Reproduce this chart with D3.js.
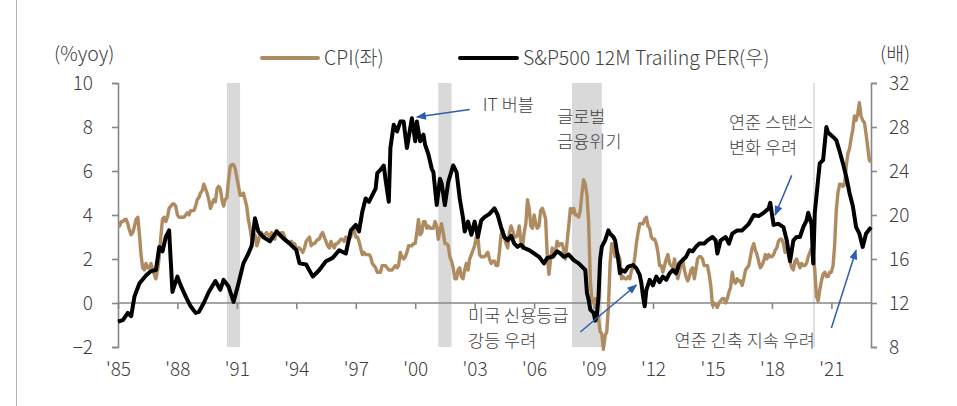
<!DOCTYPE html>
<html>
<head>
<meta charset="utf-8">
<script src="https://cdn.jsdelivr.net/npm/d3@7"></script>
<style>
  html, body { margin: 0; padding: 0; background: #fff; }
  svg text { font-family: "Noto Sans CJK KR", "Noto Sans", sans-serif; font-weight: 300; fill: #3f3f3f; }
</style>
</head>
<body>
<div id="chart"></div>
<script>
// US CPI yoy (%), monthly from 1985-01 to 2023-01
const cpiStart = [1985, 0];
const cpi = [
  3.5, 3.5, 3.7, 3.7, 3.8, 3.8, 3.6, 3.3, 3.1, 3.2, 3.5, 3.8, // 1985
  3.9, 3.1, 2.2, 1.6, 1.5, 1.8, 1.6, 1.6, 1.8, 1.5, 1.3, 1.1, // 1986
  1.5, 2.1, 3.0, 3.8, 3.9, 3.7, 3.9, 4.3, 4.4, 4.5, 4.5, 4.4, // 1987
  4.0, 3.9, 3.9, 3.9, 3.9, 4.0, 4.1, 4.0, 4.2, 4.2, 4.2, 4.4, // 1988
  4.7, 4.8, 5.0, 5.1, 5.4, 5.2, 5.0, 4.7, 4.3, 4.5, 4.7, 4.6, // 1989
  5.2, 5.3, 5.2, 4.7, 4.4, 4.7, 4.8, 5.6, 6.2, 6.3, 6.3, 6.1, // 1990
  5.7, 5.3, 4.9, 4.9, 5.0, 4.7, 4.4, 3.8, 3.4, 2.9, 3.0, 3.1, // 1991
  2.6, 2.8, 3.2, 3.2, 3.0, 3.1, 3.2, 3.1, 3.0, 3.2, 3.0, 2.9, // 1992
  3.3, 3.2, 3.1, 3.2, 3.2, 3.0, 2.8, 2.8, 2.7, 2.8, 2.7, 2.7, // 1993
  2.5, 2.5, 2.5, 2.4, 2.3, 2.5, 2.8, 2.9, 3.0, 2.6, 2.7, 2.7, // 1994
  2.8, 2.9, 2.9, 3.1, 3.2, 3.0, 2.8, 2.6, 2.5, 2.8, 2.6, 2.5, // 1995
  2.7, 2.7, 2.8, 2.9, 2.9, 2.8, 3.0, 2.9, 3.0, 3.0, 3.3, 3.3, // 1996
  3.0, 3.0, 2.8, 2.5, 2.2, 2.3, 2.2, 2.2, 2.2, 2.1, 1.8, 1.7, // 1997
  1.6, 1.4, 1.4, 1.4, 1.7, 1.7, 1.7, 1.6, 1.5, 1.5, 1.5, 1.6, // 1998
  1.7, 1.6, 1.7, 2.3, 2.1, 2.0, 2.1, 2.3, 2.6, 2.6, 2.6, 2.7, // 1999
  2.7, 3.2, 3.8, 3.1, 3.2, 3.7, 3.7, 3.4, 3.5, 3.4, 3.4, 3.4, // 2000
  3.7, 3.5, 2.9, 3.3, 3.6, 3.2, 2.7, 2.7, 2.6, 2.1, 1.9, 1.6, // 2001
  1.1, 1.1, 1.5, 1.6, 1.2, 1.1, 1.5, 1.8, 1.5, 2.0, 2.2, 2.4, // 2002
  2.6, 3.0, 3.0, 2.2, 2.1, 2.1, 2.1, 2.2, 2.3, 2.0, 1.8, 1.9, // 2003
  1.9, 1.7, 1.7, 2.3, 3.1, 3.3, 3.0, 2.7, 2.5, 3.2, 3.5, 3.3, // 2004
  3.0, 3.0, 3.1, 3.5, 2.8, 2.5, 3.2, 3.6, 4.7, 4.3, 3.5, 3.4, // 2005
  4.0, 3.6, 3.4, 3.5, 4.2, 4.3, 4.1, 3.8, 2.1, 1.3, 2.0, 2.5, // 2006
  2.1, 2.4, 2.8, 2.6, 2.7, 2.7, 2.4, 2.0, 2.8, 3.5, 4.3, 4.1, // 2007
  4.3, 4.0, 4.0, 3.9, 4.2, 5.0, 5.6, 5.4, 4.9, 3.7, 1.1, 0.1, // 2008
  0.0, 0.2, -0.4, -0.7, -1.3, -1.4, -2.1, -1.5, -1.3, -0.2, 1.8, 2.7, // 2009
  2.6, 2.1, 2.3, 2.2, 2.0, 1.1, 1.2, 1.1, 1.1, 1.2, 1.1, 1.5, // 2010
  1.6, 2.1, 2.7, 3.2, 3.6, 3.6, 3.6, 3.8, 3.9, 3.5, 3.4, 3.0, // 2011
  2.9, 2.9, 2.7, 2.3, 1.7, 1.7, 1.4, 1.7, 2.0, 2.2, 1.8, 1.7, // 2012
  1.6, 2.0, 1.5, 1.1, 1.4, 1.8, 2.0, 1.5, 1.2, 1.0, 1.2, 1.5, // 2013
  1.6, 1.1, 1.5, 2.0, 2.1, 2.1, 2.0, 1.7, 1.7, 1.7, 1.3, 0.8, // 2014
  -0.1, 0.0, -0.1, -0.2, 0.0, 0.1, 0.2, 0.2, 0.0, 0.2, 0.5, 0.7, // 2015
  1.4, 1.0, 0.9, 1.1, 1.0, 1.0, 0.8, 1.1, 1.5, 1.6, 1.7, 2.1, // 2016
  2.5, 2.7, 2.4, 2.2, 1.9, 1.6, 1.7, 1.9, 2.2, 2.0, 2.2, 2.1, // 2017
  2.1, 2.2, 2.4, 2.5, 2.8, 2.9, 2.9, 2.7, 2.3, 2.5, 2.2, 1.9, // 2018
  1.6, 1.5, 1.9, 2.0, 1.8, 1.6, 1.8, 1.7, 1.7, 1.8, 2.1, 2.3, // 2019
  2.5, 2.3, 1.5, 0.3, 0.1, 0.6, 1.0, 1.3, 1.4, 1.2, 1.2, 1.4, // 2020
  1.4, 1.7, 2.6, 4.2, 5.0, 5.4, 5.4, 5.3, 5.4, 6.2, 6.8, 7.0, // 2021
  7.5, 7.9, 8.5, 8.3, 8.6, 9.1, 8.5, 8.3, 8.2, 7.7, 7.1, 6.5, // 2022
  6.4 // 2023
];

// S&P500 12M trailing PER (x)
const per = [
  ["1985-01", 10.3], ["1985-04", 10.45], ["1985-07", 11.1], ["1985-09", 10.8], ["1985-11", 12.6],
  ["1986-02", 13.8], ["1986-06", 14.5], ["1986-09", 14.9], ["1986-12", 15.0],
  ["1987-02", 17.1], ["1987-04", 16.7], ["1987-06", 18.0], ["1987-08", 18.6], ["1987-10", 13.0], ["1987-11", 13.5],
  ["1988-01", 14.4], ["1988-03", 13.6], ["1988-06", 12.6], ["1988-09", 11.7], ["1988-12", 11.1],
  ["1989-02", 11.2], ["1989-05", 12.0], ["1989-08", 13.0], ["1989-12", 14.0],
  ["1990-03", 13.2], ["1990-05", 14.1], ["1990-08", 13.5], ["1990-11", 12.1],
  ["1991-02", 13.8], ["1991-05", 15.6], ["1991-08", 16.5], ["1991-10", 17.2], ["1991-12", 19.7],
  ["1992-02", 18.5], ["1992-05", 18.0], ["1992-09", 17.6],
  ["1993-01", 18.5], ["1993-05", 17.9], ["1993-09", 17.4],
  ["1994-01", 16.8], ["1994-03", 15.6], ["1994-07", 15.5], ["1994-11", 14.4],
  ["1995-03", 15.0], ["1995-07", 15.8], ["1995-11", 16.1],
  ["1996-03", 16.8], ["1996-07", 16.5], ["1996-10", 18.6],
  ["1997-01", 19.1], ["1997-03", 18.5], ["1997-05", 20.3], ["1997-07", 21.5], ["1997-09", 21.2], ["1997-11", 21.8],
  ["1998-01", 22.4], ["1998-02", 23.8], ["1998-04", 24.1], ["1998-06", 24.5], ["1998-07", 23.3], ["1998-09", 21.2],
  ["1998-10", 26.1], ["1998-12", 28.2],
  ["1999-02", 27.6], ["1999-04", 28.5], ["1999-06", 28.5], ["1999-08", 26.1], ["1999-10", 27.9], ["1999-11", 28.8],
  ["2000-01", 26.7], ["2000-02", 28.5], ["2000-04", 26.7], ["2000-06", 27.3], ["2000-07", 26.4], ["2000-09", 25.5],
  ["2000-11", 24.2], ["2000-12", 23.9],
  ["2001-02", 20.9], ["2001-04", 23.3], ["2001-05", 22.9], ["2001-07", 20.9], ["2001-09", 23.0], ["2001-12", 24.5],
  ["2002-02", 23.9], ["2002-04", 21.5], ["2002-06", 19.7], ["2002-07", 18.5], ["2002-09", 19.4], ["2002-11", 18.2],
  ["2003-01", 19.4], ["2003-03", 18.0], ["2003-05", 19.5], ["2003-07", 19.8], ["2003-10", 20.1],
  ["2004-01", 20.6], ["2004-03", 20.0], ["2004-05", 18.9], ["2004-07", 18.0], ["2004-09", 17.7], ["2004-11", 18.1],
  ["2005-01", 17.4], ["2005-03", 17.1], ["2005-05", 17.3], ["2005-07", 17.0], ["2005-10", 16.8],
  ["2006-01", 16.5], ["2006-04", 16.2], ["2006-07", 15.6], ["2006-09", 16.1], ["2006-12", 16.2],
  ["2007-03", 16.7], ["2007-05", 16.5], ["2007-07", 16.2], ["2007-10", 16.4],
  ["2008-01", 15.9], ["2008-04", 15.6], ["2008-06", 15.3], ["2008-08", 15.0], ["2008-09", 12.9], ["2008-10", 12.3],
  ["2008-11", 11.4], ["2009-01", 11.1], ["2009-02", 10.4], ["2009-03", 10.8], ["2009-04", 12.5], ["2009-05", 15.9],
  ["2009-06", 17.1], ["2009-08", 17.7], ["2009-10", 18.6], ["2009-11", 18.3],
  ["2010-01", 18.0], ["2010-02", 17.7], ["2010-04", 15.9], ["2010-05", 14.7], ["2010-06", 15.0], ["2010-08", 14.85],
  ["2010-10", 15.3],
  ["2011-01", 15.45], ["2011-03", 15.15], ["2011-05", 14.55], ["2011-06", 13.8], ["2011-07", 12.6], ["2011-08", 11.7],
  ["2011-09", 13.2], ["2011-11", 14.1],
  ["2012-01", 13.6], ["2012-03", 14.4], ["2012-05", 13.9], ["2012-07", 14.4], ["2012-09", 14.1], ["2012-11", 14.7],
  ["2013-01", 15.0], ["2013-03", 14.7], ["2013-05", 15.6], ["2013-07", 15.9], ["2013-09", 16.2], ["2013-11", 16.8],
  ["2014-01", 16.7], ["2014-03", 17.1], ["2014-05", 17.4], ["2014-08", 17.4], ["2014-10", 17.7],
  ["2015-01", 18.0], ["2015-03", 17.7], ["2015-04", 16.5], ["2015-06", 17.7], ["2015-09", 18.0], ["2015-11", 17.4],
  ["2016-01", 18.3], ["2016-04", 18.6], ["2016-07", 18.6], ["2016-11", 19.2],
  ["2017-02", 20.0], ["2017-05", 19.9], ["2017-08", 20.2], ["2017-11", 20.6], ["2017-12", 21.1],
  ["2018-02", 19.1], ["2018-05", 19.2], ["2018-08", 18.9], ["2018-10", 17.7], ["2018-12", 15.8],
  ["2019-02", 17.7], ["2019-04", 18.0], ["2019-06", 18.0], ["2019-08", 18.9], ["2019-10", 19.5], ["2019-11", 20.2],
  ["2020-01", 19.2], ["2020-02", 15.6], ["2020-03", 20.2], ["2020-05", 23.2], ["2020-06", 24.7], ["2020-08", 25.0],
  ["2020-10", 28.0], ["2020-11", 27.5],
  ["2021-02", 27.1], ["2021-04", 26.8], ["2021-06", 25.8], ["2021-08", 24.7], ["2021-10", 23.5], ["2021-12", 22.0],
  ["2022-02", 20.8], ["2022-04", 18.9], ["2022-06", 18.3], ["2022-08", 17.1], ["2022-10", 18.3],
  ["2023-01", 18.9]
];

// shaded recession periods
const recessions = [
  ["1990-07", "1991-03"],
  ["2001-03", "2001-11"],
  ["2007-12", "2009-06"],
  ["2020-02", "2020-03"]
];

const xTickYears = [1985, 1988, 1991, 1994, 1997, 2000, 2003, 2006, 2009, 2012, 2015, 2018, 2021];
const cpiTicks = [-2, 0, 2, 4, 6, 8, 10];
const perTicks = [8, 12, 16, 20, 24, 28, 32];

// annotations: text position and arrow given in (date, PER) terms
const notes = [
  { lines: ["IT 버블"], at: ["2003-06", 30.0], arrow: [["2002-10", 29.6], ["2000-02", 28.9]] },
  { lines: ["글로벌", "금융위기"], at: ["2007-03", 28.8] },
  { lines: ["연준 스탠스", "변화 우려"], at: ["2015-11", 28.27], arrow: [["2019-01", 23.6], ["2018-03", 20.0]] },
  { lines: ["미국 신용등급", "강등 우려"], at: ["2002-09", 10.73], arrow: [["2008-05", 9.36], ["2011-03", 13.64]] },
  { lines: ["연준 긴축 지속 우려"], at: ["2013-02", 8.55], arrow: [["2021-01", 9.73], ["2022-04", 16.8]] }
];

const width = 957;
const height = 406;
const plotLeft = 118, plotRight = 871, plotTop = 83, plotBottom = 347;
const brown = "#ae8b60";
const axisColor = "#878787";
const blue = "#2e5caf";
const fontSize = "19.5px";
const tickSize = "19px";
const noteSize = 17.5;
const noteGap = 25.5;

const parseMonth = d3.timeParse("%Y-%m");

const svg = d3
  .select("#chart")
  .append("svg")
  .attr("width", width)
  .attr("height", height);

const x = d3
  .scaleTime()
  .domain([new Date(1985, 0, 1), new Date(2023, 0, 1)])
  .range([plotLeft, plotRight]);

const yCpi = d3.scaleLinear().domain([-2, 10]).range([plotBottom, plotTop]);
const yPer = d3.scaleLinear().domain([8, 32]).range([plotBottom, plotTop]);

// page border on the left
svg
  .append("line")
  .attr("x1", 16.5)
  .attr("x2", 16.5)
  .attr("y1", 0)
  .attr("y2", height)
  .attr("stroke", "#b4b4b4")
  .attr("stroke-width", 1);

// recession shading
svg
  .append("g")
  .selectAll("rect")
  .data(recessions)
  .enter()
  .append("rect")
  .attr("x", (d) => x(parseMonth(d[0])))
  .attr("y", plotTop)
  .attr("width", (d) => x(parseMonth(d[1])) - x(parseMonth(d[0])))
  .attr("height", plotBottom - plotTop)
  .attr("fill", "#d9d9d9");

// left axis
const leftAxis = svg
  .append("g")
  .attr("transform", `translate(${plotLeft},0)`)
  .call(d3.axisLeft(yCpi).tickValues(cpiTicks).tickSize(6).tickPadding(19));

// right axis
const rightAxis = svg
  .append("g")
  .attr("transform", `translate(${plotRight},0)`)
  .call(d3.axisRight(yPer).tickValues(perTicks).tickSize(6).tickPadding(12));

// x axis sits on CPI = 0
const xAxis = svg
  .append("g")
  .attr("transform", `translate(0,${yCpi(0)})`)
  .call(
    d3
      .axisBottom(x)
      .tickValues(xTickYears.map((yr) => new Date(yr, 0, 1)))
      .tickSize(6)
      .tickFormat((d) => "'" + String(d.getFullYear()).slice(2))
  );

xAxis.selectAll(".tick text").attr("y", yCpi(-2) - yCpi(0) + 16).attr("dy", "0.71em");

[leftAxis, rightAxis, xAxis].forEach((g) => {
  g.select(".domain").attr("stroke", axisColor).attr("stroke-width", 1.6);
  g.selectAll(".tick line").attr("stroke", axisColor).attr("stroke-width", 1.6);
  g.selectAll(".tick text").attr("font-size", tickSize).attr("fill", "#3f3f3f");
});
xAxis.select(".domain").attr("d", `M${plotLeft},0H${plotRight}`);

// lines
const cpiLine = d3
  .line()
  .x((d, i) => x(new Date(cpiStart[0], cpiStart[1] + i, 1)))
  .y((d) => yCpi(d));

svg
  .append("path")
  .datum(cpi)
  .attr("fill", "none")
  .attr("stroke", brown)
  .attr("stroke-width", 3.4)
  .attr("stroke-linejoin", "round")
  .attr("d", cpiLine);

const perLine = d3
  .line()
  .x((d) => x(parseMonth(d[0])))
  .y((d) => yPer(d[1]));

svg
  .append("path")
  .datum(per)
  .attr("fill", "none")
  .attr("stroke", "#000")
  .attr("stroke-width", 4)
  .attr("stroke-linejoin", "round")
  .attr("d", perLine);

// axis titles
svg.append("text").attr("x", 54).attr("y", 54.5).attr("dy", "0.35em").attr("font-size", fontSize).text("(%yoy)");
svg.append("text").attr("x", 880).attr("y", 54.5).attr("dy", "0.35em").attr("font-size", fontSize).text("(배)");

// legend
const legend = svg.append("g");
const legendItems = [
  { label: "CPI(좌)", color: brown, x0: 262, x1: 318 },
  { label: "S&P500 12M Trailing PER(우)", color: "#000", x0: 460, x1: 517 }
];
legendItems.forEach((d) => {
  legend
    .append("line")
    .attr("x1", d.x0)
    .attr("x2", d.x1)
    .attr("y1", 58)
    .attr("y2", 58)
    .attr("stroke", d.color)
    .attr("stroke-width", 4)
    .attr("stroke-linecap", "round");
  legend
    .append("text")
    .attr("x", d.x1 + 6)
    .attr("y", 58)
    .attr("dy", "0.35em")
    .attr("font-size", fontSize)
    .text(d.label);
});

// annotations
svg
  .append("defs")
  .append("marker")
  .attr("id", "head")
  .attr("viewBox", "0 0 10 8")
  .attr("refX", 9)
  .attr("refY", 4)
  .attr("markerWidth", 11)
  .attr("markerHeight", 8)
  .attr("markerUnits", "userSpaceOnUse")
  .attr("orient", "auto")
  .append("path")
  .attr("d", "M0,0L10,4L0,8Z")
  .attr("fill", blue);

notes.forEach((n) => {
  const tx = x(parseMonth(n.at[0]));
  // first line centre, pulled up a little so two-line notes stay centred
  const ty = yPer(n.at[1]) - (n.lines.length - 1) * 1.5;
  const label = svg
    .append("text")
    .attr("x", tx)
    .attr("y", ty)
    .attr("font-size", noteSize + "px");
  n.lines.forEach((line, i) => {
    label
      .append("tspan")
      .attr("x", tx)
      .attr("y", ty + i * noteGap)
      .attr("dy", "0.35em")
      .text(line);
  });
  if (n.arrow) {
    const [a, b] = n.arrow;
    svg
      .append("line")
      .attr("x1", x(parseMonth(a[0])))
      .attr("y1", yPer(a[1]))
      .attr("x2", x(parseMonth(b[0])))
      .attr("y2", yPer(b[1]))
      .attr("stroke", blue)
      .attr("stroke-width", 1.5)
      .attr("marker-end", "url(#head)");
  }
});
</script>
</body>
</html>
